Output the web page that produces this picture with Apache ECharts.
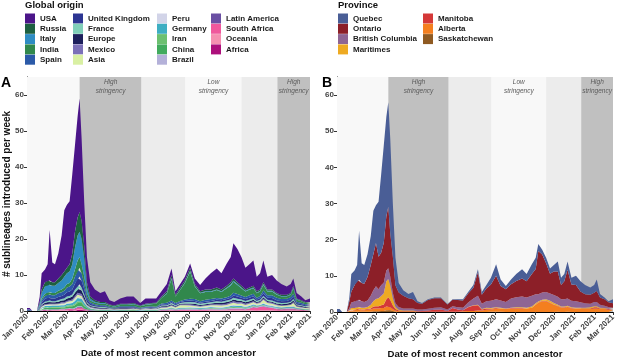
<!DOCTYPE html>
<html>
<head>
<meta charset="utf-8">
<script src="https://cdn.jsdelivr.net/npm/echarts@6/dist/echarts.min.js"></script>
<style>
html, body { margin: 0; padding: 0; background: #fff; }
#main { width: 617px; height: 359px; }
</style>
</head>
<body>
<div id="main"></div>
<script>
var chartDom = document.getElementById('main');
var myChart = echarts.init(chartDom);
var option;

// sample dates, as days after 1 Jan 2020
var days = [0, 4, 8, 15, 19, 22, 27, 31, 34, 38,
    42, 47, 52, 56, 60, 64, 68, 72, 76, 79,
    82, 86, 90, 95, 102, 110, 117, 124, 131, 140,
    150, 160, 170, 178, 186, 194, 202, 210, 217, 223,
    230, 237, 245, 252, 260, 268, 276, 285, 292, 300,
    306, 310, 316, 322, 328, 334, 340, 345, 350, 355,
    361, 368, 375, 382, 390, 396, 400, 405, 412, 418,
    425];

var monthStarts = [0, 31, 60, 91, 121, 152, 182, 213, 244, 274, 305, 335, 366, 397, 425];
var monthLabels = ['Jan 2020', 'Feb 2020', 'Mar 2020', 'Apr 2020', 'May 2020', 'Jun 2020', 'Jul 2020',
    'Aug 2020', 'Sep 2020', 'Oct 2020', 'Nov 2020', 'Dec 2020', 'Jan 2021', 'Feb 2021', 'Mar 2021'];
var yTicks = [0, 10, 20, 30, 40, 50, 60];

// stringency periods (days after 1 Jan 2020)
var bandStart = [0, 79, 172, 238, 322, 376];
var bandEnd = [79, 172, 238, 322, 376, 425];
var bandLevel = ['low', 'high', 'mid', 'low', 'mid', 'high'];
var bandText = ['', 'High\nstringency', '', 'Low\nstringency', '', 'High\nstringency'];

// ---- panel A: global origin ----
var usa = [.4, .4, 0, 0, 1.5, 4.5, 3.5, 4.5, 14, 5.5,
    5, 7, 11, 17, 17.5, 17.5, 22, 24, 28, 31.5,
    23, 12, 7, 4, 3, 2.5, 3, 1.2, 1, 1.5,
    2, 1.8, .7, 1.5, 1.3, 1.2, 1.5, 2, 1.8, 1,
    1, 1, 1.2, 1.5, 1.7, 3, 4.5, 5.3, 4.5, 6.2,
    7, 9.8, 9.2, 8, 6, 6.5, 7, 4, 4.5, 6,
    3.5, 4, 3.5, 3, 2.3, 2.5, 2, 1.5, 1, .5,
    1];
var russia = [0, 0, 0, 0, .5, 1, 1.2, 1.2, 1.2, 1,
    1, 1.2, 1.5, 1.5, 1.5, 2, 3, 4.5, 5, 5.5,
    5, 3.5, 1.5, .6, .4, .3, .3, .2, .2, .2,
    .2, .2, .1, .2, .2, .2, .3, .5, .8, .4,
    .5, .6, .8, .5, .4, .5, .5, .5, .5, .5,
    .6, .6, .5, .5, .4, .4, .5, .4, .4, .5,
    .4, .4, .3, .3, .3, .3, .4, .2, .2, .2,
    .2];
var italy = [.2, .2, 0, 0, .5, 1.5, 2, 2, 2, 2,
    2, 2.2, 2.5, 3, 3, 3.2, 4, 6, 7, 7,
    7, 5, 1.5, .5, .3, .2, .2, .1, .1, .1,
    .1, .1, .1, .1, .1, .1, .1, .2, .3, .1,
    .2, .2, .3, .2, .2, .2, .2, .2, .2, .2,
    .3, .3, .3, .2, .2, .2, .2, .2, .2, .3,
    .2, .2, .2, .2, .2, .2, .3, .2, .1, .1,
    .1];
var india = [0, 0, 0, 0, .2, .5, .6, .7, .7, .6,
    .6, .7, .8, .9, 1, 1, 1.5, 2, 2.5, 3,
    2.5, 2, 1, .5, .4, .4, .4, .3, .3, .4,
    .4, .5, .4, .5, .6, .8, 1.5, 2.5, 6, 1.8,
    3, 4.5, 7.5, 3.5, 2.2, 2.2, 2, 2.2, 1.8, 2.5,
    2.8, 3, 2.5, 2, 1.5, 1.5, 1.5, 1.2, 1.2, 1.5,
    1, 1, .8, .7, .6, .6, 1.5, .5, .4, .3,
    .3];
var spain = [0, 0, 0, 0, .3, .6, .8, .9, .9, .9,
    .9, 1, 1, 1.1, 1.3, 1.4, 1.5, 1.9, 2.3, 2.4,
    2.1, 1.5, .8, .4, .3, .3, .3, .2, .1, .2,
    .2, .2, .1, .2, .2, .2, .3, .4, .4, .3,
    .3, .4, .5, .5, .4, .5, .5, .5, .5, .5,
    .6, .8, .7, .6, .6, .7, .7, .5, .6, .8,
    .7, .8, .7, .6, .6, .7, .8, .4, .4, .3,
    .3];
var uk = [0, 0, 0, 0, .2, .5, .8, .8, .8, .8,
    .8, .9, .9, 1, 1.2, 1.2, 1.4, 1.7, 2.1, 2.2,
    1.9, 1.4, .7, .4, .3, .2, .2, .2, .1, .2,
    .2, .2, .1, .2, .2, .2, .3, .3, .3, .3,
    .3, .4, .4, .4, .3, .4, .4, .4, .4, .4,
    .5, .6, .6, .5, .5, .6, .6, .4, .5, .7,
    .6, .7, .6, .5, .5, .6, .7, .4, .3, .3,
    .3];
var france = [0, 0, 0, 0, .1, .2, .3, .4, .4, .3,
    .3, .4, .4, .5, .5, .5, .6, .8, .9, 1,
    .8, .6, .3, .2, .2, .2, .2, .1, .1, .1,
    .1, .1, .1, .1, .1, .1, .2, .2, .3, .2,
    .2, .3, .4, .4, .3, .3, .3, .4, .4, .4,
    .4, .5, .5, .4, .4, .4, .4, .3, .3, .4,
    .3, .3, .3, .3, .3, .3, .4, .2, .2, .2,
    .2];
var europe = [.2, .2, 0, 0, .1, .3, .4, .5, .5, .4,
    .4, .5, .5, .6, .7, .7, .8, 1, 1.1, 1.2,
    1, .8, .4, .2, .2, .2, .2, .1, .1, .1,
    .1, .1, .1, .1, .1, .1, .2, .2, .3, .2,
    .2, .3, .3, .3, .3, .3, .3, .4, .4, .5,
    .4, .5, .5, .4, .4, .4, .4, .3, .3, .4,
    .3, .3, .3, .3, .3, .4, .4, .2, .2, .2,
    .2];
var mexico = [0, 0, 0, 0, .1, .2, .2, .2, .2, .2,
    .2, .2, .3, .3, .3, .3, .4, .5, .6, .6,
    .5, .4, .2, .2, .2, .2, .2, .1, .1, .2,
    .2, .2, .1, .1, .2, .1, .2, .2, .2, .2,
    .2, .2, .3, .3, .2, .2, .2, .3, .3, .3,
    .3, .4, .4, .3, .3, .3, .3, .2, .3, .3,
    .3, .3, .2, .2, .2, .2, .3, .2, .2, .1,
    .1];
var asia = [0, 0, 0, 0, .1, .2, .2, .3, .3, .2,
    .2, .3, .3, .3, .3, .4, .4, .5, .6, .6,
    .5, .4, .2, .1, .1, .1, .1, .1, .1, .1,
    .1, .1, .1, .1, .1, .1, .2, .3, .3, .3,
    .6, .6, .3, .3, .3, .3, .3, .4, .4, .4,
    .5, .5, .4, .5, .4, .4, .4, .3, .3, .9,
    .4, .4, .3, .3, .3, .4, .8, .3, .2, .2,
    .2];
var peru = [0, 0, 0, 0, 0, .1, .1, .1, .1, .1,
    .1, .1, .2, .2, .2, .2, .2, .3, .3, .4,
    .3, .2, .1, .2, .1, .1, .1, .1, .1, .1,
    .1, .1, .1, .1, .1, .1, .1, .1, .1, .1,
    .1, .1, .2, .2, .1, .2, .2, .2, .2, .2,
    .2, .3, .2, .2, .2, .2, .2, .2, .2, .2,
    .2, .2, .2, .1, .1, .2, .2, .1, .1, .1,
    .1];
var germany = [0, 0, 0, 0, .1, .2, .3, .4, .4, .4,
    .4, .4, .4, .4, .5, .5, .6, .8, .9, .9,
    .8, .6, .3, .2, .1, .1, .1, .1, .1, .1,
    .1, .1, .1, .1, .1, .1, .1, .1, .2, .1,
    .2, .2, .2, .2, .2, .2, .2, .2, .2, .2,
    .3, .3, .3, .3, .2, .3, .3, .2, .2, .3,
    .2, .2, .2, .2, .2, .2, .3, .1, .1, .1,
    .1];
var iran = [0, 0, 0, 0, .1, .1, .2, .2, .2, .2,
    .2, .2, .2, .2, .3, .3, .3, .4, .5, .5,
    .4, .3, .2, .1, .1, 0, 0, 0, 0, 0,
    0, .1, 0, 0, 0, 0, 0, 0, .1, 0,
    0, 0, .1, 0, 0, 0, .1, .1, 0, .1,
    .1, .1, .1, .1, .1, .1, .1, 0, 0, .1,
    0, 0, 0, 0, 0, 0, 0, 0, 0, 0,
    0];
var china = [0, 0, 0, 0, .1, .3, .4, .4, .4, .4,
    .4, .4, .4, .4, .5, .5, .6, .7, .9, .9,
    .8, .6, .3, .1, .1, .1, .1, .1, 0, .1,
    .1, .1, 0, .1, .1, .1, .1, .1, .1, .1,
    .1, .1, .1, .1, .1, .1, .1, .1, .1, .1,
    .2, .2, .2, .2, .1, .1, .1, .1, .1, .1,
    .1, .1, .1, .1, .1, .1, .1, .1, .1, .1,
    .1];
var brazil = [0, 0, 0, 0, 0, .1, .1, .1, .1, .1,
    .1, .1, .1, .1, .1, .1, .1, .2, .2, .2,
    .2, .1, .1, .1, .1, .1, .1, .1, .1, .1,
    .1, .1, .1, .1, .1, .1, .1, .1, .2, .1,
    .2, .2, .2, .2, .1, .2, .2, .2, .2, .2,
    .2, .3, .2, .2, .2, .2, .2, .2, .2, .2,
    .2, .2, .2, .2, .2, .2, .2, .1, .1, .1,
    .1];
var latinAmerica = [0, 0, 0, 0, 0, 0, .1, .1, .1, .1,
    .1, .1, .1, .1, .1, .1, .1, .2, .2, .2,
    .2, .1, .1, .1, .1, 0, 0, 0, 0, 0,
    0, 0, 0, 0, 0, 0, .1, .1, .1, .1,
    .1, .1, .1, .1, .1, .1, .1, .1, .1, .1,
    .1, .1, .1, .1, .1, .1, .1, .1, .1, .1,
    .1, .1, .1, .1, .1, .1, .1, .1, .1, 0,
    0];
var southAfrica = [0, 0, 0, 0, 0, .1, .1, .1, .1, .1,
    .1, .1, .2, .2, .3, .3, .2, .3, .5, .5,
    .5, .2, .1, 0, 0, 0, 0, 0, 0, 0,
    0, 0, 0, 0, 0, 0, .1, .1, .1, .1,
    .2, .2, .2, .2, .2, .2, .2, .1, .1, .2,
    .3, .3, .3, .3, .2, .4, .8, .8, .9, 1,
    .8, .6, .4, .3, .3, .3, .3, .2, .2, .1,
    .1];
var oceania = [0, 0, 0, 0, 0, 0, 0, 0, 0, .1,
    .1, .1, .1, .1, .1, .1, .1, .1, .1, .1,
    .2, .1, .1, 0, 0, 0, 0, 0, 0, 0,
    0, 0, 0, 0, 0, 0, 0, 0, .1, 0,
    0, 0, 0, 0, 0, 0, .1, .1, .1, .1,
    .1, .1, .1, .1, .1, .1, .1, .1, .1, .1,
    .1, .1, .1, .1, .1, .1, .1, .1, 0, 0,
    0];
var africa = [0, 0, 0, 0, 0, .1, .2, .1, .1, .1,
    .1, .1, .1, .1, .1, .2, .2, .1, .3, .3,
    .3, .2, .1, .1, 0, 0, 0, 0, 0, 0,
    0, 0, 0, 0, 0, 0, .1, .1, .1, .1,
    .1, .1, .1, .1, .1, .1, .1, .1, .1, .1,
    .1, .1, .1, .1, .1, .1, .1, 0, .1, .1,
    .1, .1, 0, 0, .1, .1, .1, .1, .1, .1,
    .1];

// ---- panel B: province ----
var quebec = [.8, .8, 0, 0, 1, 4.9, 4.1, 4.1, 13.6, 5.5,
    5.2, 6.3, 8, 12, 10.4, 15.2, 21.6, 26.9, 27.5, 28.9,
    26.2, 14.7, 7.6, 2.6, 1.5, 1.2, 2, .5, .2, .2,
    .2, .2, .1, .1, .2, .3, .4, .8, .8, .7,
    1, 1.9, 3.2, 1.8, .9, 1.3, 1.9, 2.5, 2, 2.7,
    3.1, 1.9, 1.3, 1.5, 1.4, 1.8, 2.8, 2, 2, 2.3,
    1.9, 2.5, 2.8, 2.6, 2, 2.2, 3.2, 1, .5, .3,
    1.1];
var ontario = [0, 0, 0, 0, 2, 3, 4.5, 5.5, 5.5, 5,
    5, 6.5, 8.5, 10, 12, 9, 9, 11, 15, 17,
    12, 10, 5, 4, 3.5, 2.8, 2.5, 1.8, 1.6, 2.4,
    2.6, 2.5, 1.4, 1.8, 2, 2, 2.5, 3, 6.5, 2.5,
    3.5, 4.5, 6.5, 4, 3.5, 4, 4.5, 5, 4.5, 6,
    7, 12, 10.5, 8, 5.5, 6.5, 7, 4, 5, 8,
    4.5, 4.5, 3, 2.5, 2.5, 2.5, 3, 2, 1.8, 1.3,
    1.2];
var britishColumbia = [0, 0, 0, 0, .5, 1.5, 1.8, 2, 2, 1.8,
    1.6, 1.8, 2.5, 3, 3.5, 2.5, 3, 3, 3, 3,
    2.5, 1.5, 1, .8, .6, .6, .6, .5, .4, .5,
    .6, .6, .4, .5, .6, .7, 1.2, 1.8, 2.5, 1.5,
    1.8, 2, 2.2, 2, 1.8, 2.5, 2.8, 3, 2.8, 3,
    2.5, 2, 2, 2, 2, 2.2, 2.2, 2, 2, 2,
    1.8, 1.8, 1.5, 1.2, 1, 1.2, 1.2, .8, .6, .5,
    .4];
var maritimes = [0, 0, 0, 0, .2, .5, .5, .6, .6, .5,
    .5, .6, 1, 1.5, 2, 2.2, 2.5, 3, 5, 5,
    4, 2, .6, .2, .1, .1, .1, 0, 0, 0,
    0, 0, 0, 0, 0, 0, .1, .1, .1, .1,
    .2, .2, .2, .2, .1, .1, .2, .2, .2, .3,
    .3, .3, .3, .4, .5, .4, .3, .2, .2, .2,
    .2, .2, .2, .2, .3, .3, .3, .2, .1, .1,
    .1];
var manitoba = [0, 0, 0, 0, 0, .1, .1, .2, .2, .2,
    .2, .2, .3, .5, .6, .6, .8, 1, 2, 2.5,
    2, 1, .4, .2, .1, .1, .1, .1, .2, .3,
    .5, .6, .2, 1, .6, .3, 1, 1.5, 1.5, .3,
    .4, .2, .2, .1, .1, .1, .1, .1, 0, 0,
    .1, .1, .1, .1, .1, .1, .1, .1, .1, .1,
    .1, .1, .2, .2, .2, .3, .3, .2, .2, .2,
    .2];
var alberta = [0, 0, 0, 0, .3, .4, .4, .5, .5, .4,
    .4, .5, .6, .8, .8, .8, .8, .8, 1, 1,
    .8, .5, .3, .2, .2, .2, .2, .1, .1, .1,
    .1, .1, .1, .1, .1, .2, .3, .3, .4, .4,
    .6, .6, .8, .8, .8, 1, 1, 1, 1, 1.2,
    2, 2.5, 3, 3, 2.5, 2, 1.5, 1.2, 1.2, 1.3,
    1, .9, .8, .8, .8, 1, 1, .8, .8, .6,
    .5];
var saskatchewan = [0, 0, 0, 0, 0, .1, .1, .1, .1, .1,
    .1, .1, .1, .2, .2, .2, .3, .3, .5, .6,
    .5, .3, .1, 0, 0, 0, 0, 0, 0, 0,
    0, 0, 0, 0, 0, 0, 0, 0, 0, 0,
    0, .1, .1, .1, 0, 0, 0, 0, 0, 0,
    0, 0, 0, 0, 0, 0, .1, 0, 0, .1,
    0, 0, 0, 0, 0, 0, 0, 0, 0, 0,
    0];

// top of the stack first, as in the legend
var originNames = ['USA', 'Russia', 'Italy', 'India', 'Spain', 'United Kingdom', 'France', 'Europe',
    'Mexico', 'Asia', 'Peru', 'Germany', 'Iran', 'China', 'Brazil', 'Latin America',
    'South Africa', 'Oceania', 'Africa'];
var originValues = [usa, russia, italy, india, spain, uk, france, europe, mexico, asia, peru,
    germany, iran, china, brazil, latinAmerica, southAfrica, oceania, africa];
var originColors = ['#4b1589', '#1d6040', '#2f8cc2', '#31884c', '#2b5aa8', '#2c3592', '#80cfb9', '#1c1f5c',
    '#7b70b8', '#d9f0a3', '#d2d4e8', '#3eaec2', '#6cc070', '#41ab5d', '#b4b1d9', '#6a4fa3',
    '#f0589c', '#f58fb0', '#ad0f7b'];

var provinceNames = ['Quebec', 'Ontario', 'British Columbia', 'Maritimes', 'Manitoba', 'Alberta', 'Saskatchewan'];
var provinceValues = [quebec, ontario, britishColumbia, maritimes, manitoba, alberta, saskatchewan];
var provinceColors = ['#4a5e96', '#8c1f28', '#8e6594', '#eeaa22', '#d43838', '#f47f1f', '#8f5a22'];

var shade = { low: '#f8f8f8', mid: '#ececec', high: '#c0c0c0' };

function bandArea() {
    return {
        silent: true,
        label: {
            show: true, position: 'insideTop', distance: 1, formatter: '{b}',
            fontSize: 6.5, fontStyle: 'italic', color: '#5a5a5a', lineHeight: 8.5
        },
        data: bandStart.map(function (s, i) {
            return [{ xAxis: s, name: bandText[i], itemStyle: { color: shade[bandLevel[i]] } },
                { xAxis: bandEnd[i] }];
        })
    };
}

function areaSeries(name, values, color, idx, stack) {
    return {
        name: name,
        type: 'line',
        stack: stack,
        xAxisIndex: idx,
        yAxisIndex: idx,
        // value first so that the stack runs on y, day second
        encode: { x: 1, y: 0 },
        data: days.map(function (d, i) { return [values[i], d]; }),
        symbol: 'none',
        silent: true,
        z: 2,
        lineStyle: { width: 0 },
        itemStyle: { color: color },
        areaStyle: { color: color, opacity: 1 }
    };
}

var series = [];
for (var i = originNames.length - 1; i >= 0; i--) {
    series.push(areaSeries(originNames[i], originValues[i], originColors[i], 0, 'origin'));
}
series[0].markArea = bandArea();
var firstB = series.length;
for (var j = provinceNames.length - 1; j >= 0; j--) {
    series.push(areaSeries(provinceNames[j], provinceValues[j], provinceColors[j], 1, 'province'));
}
series[firstB].markArea = bandArea();

function legendCol(left, names) {
    return {
        orient: 'vertical', left: left, top: 13.5, padding: 0,
        itemWidth: 10, itemHeight: 10, itemGap: 0.3, icon: 'rect',
        selectedMode: false,
        itemStyle: { borderWidth: 0 },
        textStyle: { fontSize: 8, fontWeight: 'bold', color: '#1a1a1a', lineHeight: 10 },
        data: names
    };
}

function xAxisFor(idx) {
    return {
        gridIndex: idx, type: 'value', min: 0, max: 425,
        axisLine: { show: true, onZero: false, lineStyle: { color: '#000', width: 1 } },
        axisTick: { show: true, customValues: monthStarts, length: 3, lineStyle: { color: '#333' } },
        axisLabel: {
            customValues: monthStarts, rotate: 45, margin: 4,
            fontSize: 8, fontWeight: 'bold', color: '#444',
            formatter: function (v) { return monthLabels[monthStarts.indexOf(v)]; }
        },
        splitLine: { show: false },
        name: 'Date of most recent common ancestor',
        nameLocation: 'middle', nameGap: 37, nameMoveOverlap: false,
        nameTextStyle: { fontSize: 9.6, fontWeight: 'bold', color: '#111' }
    };
}

function yAxisFor(idx) {
    var ax = {
        gridIndex: idx, type: 'value', min: 0, max: 65,
        axisLine: { show: true, lineStyle: { color: '#000', width: 1 } },
        axisTick: { show: true, customValues: yTicks, length: 3, lineStyle: { color: '#333' } },
        axisLabel: { customValues: yTicks, margin: 3, fontSize: 8, fontWeight: 'bold', color: '#444' },
        splitLine: { show: false }
    };
    if (idx === 0) {
        ax.name = '# sublineages introduced per week';
        ax.nameLocation = 'middle';
        ax.nameGap = 15;
        ax.nameMoveOverlap = false;
        ax.nameTextStyle = { fontSize: 10, fontWeight: 'bold', color: '#111' };
    }
    return ax;
}

option = {
    animation: false,
    backgroundColor: '#fff',
    textStyle: { fontFamily: 'Liberation Sans' },
    title: [
        { text: 'Global origin', left: 25, top: 0, padding: 0,
            textStyle: { fontSize: 9.5, fontWeight: 'bold', color: '#111' } },
        { text: 'Province', left: 338, top: 0, padding: 0,
            textStyle: { fontSize: 9.5, fontWeight: 'bold', color: '#111' } },
        { text: 'A', left: 1, top: 76, padding: 0,
            textStyle: { fontSize: 14, fontWeight: 'bold', color: '#000' } },
        { text: 'B', left: 322, top: 76, padding: 0,
            textStyle: { fontSize: 14, fontWeight: 'bold', color: '#000' } }
    ],
    legend: [
        legendCol(25, ['USA', 'Russia', 'Italy', 'India', 'Spain']),
        legendCol(73, ['United Kingdom', 'France', 'Europe', 'Mexico', 'Asia']),
        legendCol(157, ['Peru', 'Germany', 'Iran', 'China', 'Brazil']),
        legendCol(211, ['Latin America', 'South Africa', 'Oceania', 'Africa']),
        legendCol(338, ['Quebec', 'Ontario', 'British Columbia', 'Maritimes']),
        legendCol(423, ['Manitoba', 'Alberta', 'Saskatchewan'])
    ],
    grid: [
        { left: 27, top: 77, right: 307, bottom: 48, outerBoundsMode: 'none' },
        { left: 337, top: 77, right: 4, bottom: 47, outerBoundsMode: 'none' }
    ],
    xAxis: [xAxisFor(0), xAxisFor(1)],
    yAxis: [yAxisFor(0), yAxisFor(1)],
    series: series
};

option && myChart.setOption(option);
</script>
</body>
</html>
